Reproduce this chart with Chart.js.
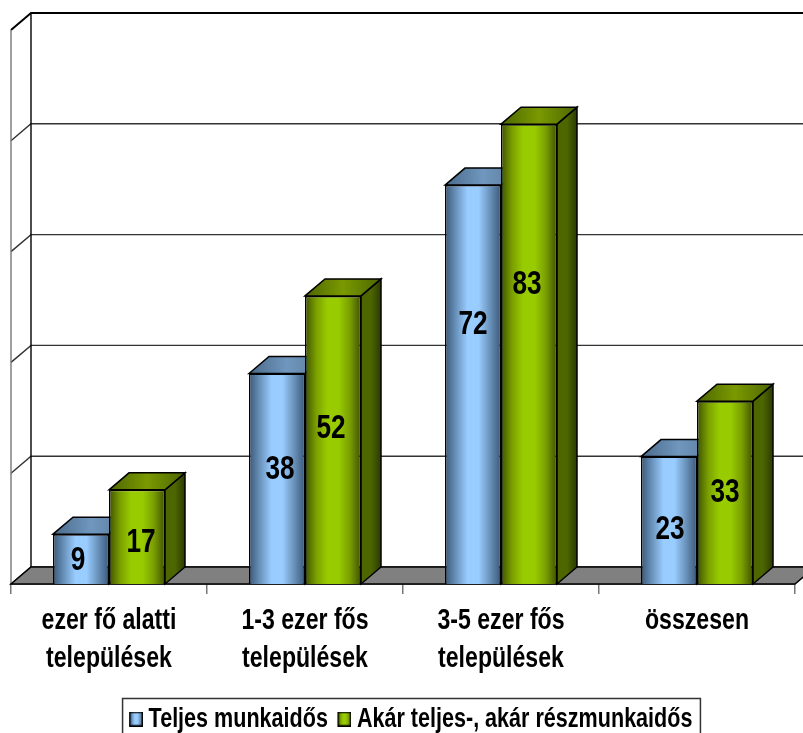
<!DOCTYPE html>
<html>
<head>
<meta charset="utf-8">
<style>
  html, body { margin: 0; padding: 0; background: #fff; overflow: hidden; }
  #wrap { position: relative; width: 803px; height: 733px; }
  canvas { display: block; }
</style>
<script src="https://cdn.jsdelivr.net/npm/chart.js@4/dist/chart.umd.min.js"></script>
</head>
<body>
<div id="wrap"><canvas id="myChart" width="803" height="733"></canvas></div>
<script>
//-- chart data ---->
var categories = [['ezer fő alatti', 'települések'], ['1-3 ezer fős', 'települések'], ['3-5 ezer fős', 'települések'], 'összesen'];
var fullTime = [9, 38, 72, 23];
var anyTime = [17, 52, 83, 33];
var seriesNames = ['Teljes munkaidős', 'Akár teljes-, akár részmunkaidős'];
var yTicks = [0, 20, 40, 60, 80, 100];

//-- 3d depth of the chart box
var depthX = 20;
var depthY = 17;

var fontName = '"Liberation Sans", Arial, sans-serif';
var squeeze = 0.77;   //-- text of the original is narrower than the font

var blue = { front: ['#3a5878', '#6a93bc', '#99ccff', '#99ccff', '#6a93bc', '#3a5878'], top: ['#4a6a8a', '#7097be', '#5a7a9a'], side: ['#3f5f80', '#4d6b8a', '#2c3f55'] };
var green = { front: ['#3f5200', '#7a9f00', '#99cc00', '#99cc00', '#7a9f00', '#3f5200'], top: ['#4d6600', '#7a9900', '#4d6600'], side: ['#4d6600', '#4d6600', '#2c3a00'] };

var canvas = document.getElementById('myChart');
var ctx = canvas.getContext('2d');

//-- squeeze every text of the chart horizontally
var rawFillText = ctx.fillText;
var rawMeasure = ctx.measureText;
ctx.fillText = function (t, x, y) {
    this.save();
    this.translate(x, y);
    this.scale(squeeze, 1);
    rawFillText.call(this, t, 0, 0);
    this.restore();
};
ctx.measureText = function (t) {
    return { width: rawMeasure.call(this, t).width * squeeze };
};

function hGradient(c, x0, x1, stops) {
    var g = c.createLinearGradient(x0, 0, x1, 0);
    stops.forEach(function (col, i) { g.addColorStop(i / (stops.length - 1), col); });
    return g;
}

//-- front face gradient, follows the bar position on the x scale
function frontFill(colors, shift) {
    return function (c) {
        var xs = c.chart.scales.x;
        if (!xs || !c.chart.chartArea) return colors.front[2];
        var w = xs.width / categories.length * 0.2857;
        var mid = xs.getPixelForValue(c.dataIndex);
        var x0 = mid + (shift - 1) * w;
        return hGradient(c.chart.ctx, x0, x0 + w, colors.front);
    };
}

//-- little gradient swatch of the legend, blank part on the left pulls it to the text
function swatch(colors) {
    var cv = document.createElement('canvas');
    cv.width = 18; cv.height = 15;
    var cx = cv.getContext('2d');
    cx.fillStyle = hGradient(cx, 4, 18, colors.front);
    cx.fillRect(4, 0, 14, 15);
    cx.strokeStyle = '#000';
    cx.lineWidth = 1.5;
    cx.strokeRect(4.75, 0.75, 12.5, 13.5);
    return cv;
}

function poly(c, pts, fill, stroke, lw) {
    c.beginPath();
    pts.forEach(function (p, i) { if (i) c.lineTo(p[0], p[1]); else c.moveTo(p[0], p[1]); });
    c.closePath();
    if (fill) { c.fillStyle = fill; c.fill(); }
    if (stroke) { c.strokeStyle = stroke; c.lineWidth = lw || 1.5; c.stroke(); }
}

//-- walls, floor and grid lines behind the bars, then top and side of each bar
var box3d = {
    id: 'box3d',
    beforeDatasetsDraw: function (chart) {
        var c = chart.ctx, a = chart.chartArea, ys = chart.scales.y;
        c.save();
        yTicks.forEach(function (v) {
            var y = ys.getPixelForValue(v);
            c.strokeStyle = v == 100 ? '#000' : '#333';
            c.lineWidth = v == 100 ? 2 : 1.4;
            c.beginPath();
            c.moveTo(a.left, y);
            c.lineTo(a.left + depthX, y - depthY);
            c.lineTo(chart.width, y - depthY);
            c.stroke();
        });
        c.strokeStyle = '#000';
        c.lineWidth = 1.4;
        c.beginPath();
        c.moveTo(a.left + depthX, a.top - depthY);
        c.lineTo(a.left + depthX, a.bottom - depthY);
        c.stroke();
        c.strokeStyle = '#777';
        c.beginPath();
        c.moveTo(a.left, a.top);
        c.lineTo(a.left, a.bottom);
        c.stroke();
        poly(c, [[a.left, a.bottom], [a.left + depthX, a.bottom - depthY], [a.right + depthX, a.bottom - depthY], [a.right, a.bottom]], '#808080', '#000', 1.5);

        chart.data.datasets.forEach(function (ds, i) {
            var colors = i == 0 ? blue : green;
            chart.getDatasetMeta(i).data.forEach(function (el) {
                var l = el.x - el.width / 2, r = el.x + el.width / 2, t = el.y, b = el.base;
                poly(c, [[r, t], [r + depthX, t - depthY], [r + depthX, b - depthY], [r, b]], hGradient(c, r, r + depthX, colors.side), '#000', 1.5);
                poly(c, [[l, t], [l + depthX, t - depthY], [r + depthX, t - depthY], [r, t]], hGradient(c, l, r + depthX, colors.top), '#000', 1.5);
            });
        });
        c.restore();
    },
    afterDraw: function (chart) {
        var c = chart.ctx, lg = chart.legend;
        var mid = (lg.left + lg.right) / 2, w = lg.lineWidths[0];
        c.save();
        c.strokeStyle = '#333';
        c.lineWidth = 1.5;
        c.strokeRect(mid - w / 2 - 4, 698.5, w + 5, 60);
        c.restore();
    }
};

//-- value labels were moved by hand in the original: height on the value axis, small shift aside
var labelHeights = [[4.2, 20.7, 46.9, 9.9], [7.5, 28, 54.1, 16.5]];
var labelShift = [[-3, 3, 0, 1], [4, -2, -2, 0]];
var valueLabels = {
    id: 'valueLabels',
    afterDatasetsDraw: function (chart) {
        var c = chart.ctx, ys = chart.scales.y;
        c.save();
        c.fillStyle = '#000';
        c.font = 'bold 34px ' + fontName;
        c.textAlign = 'center';
        c.textBaseline = 'middle';
        chart.data.datasets.forEach(function (ds, i) {
            chart.getDatasetMeta(i).data.forEach(function (el, j) {
                c.fillText(String(ds.data[j]), el.x + labelShift[i][j], ys.getPixelForValue(labelHeights[i][j]));
            });
        });
        c.restore();
    },
    afterLayout: function (chart) {
        //-- the legend sits a bit right of the middle and runs off the page
        var lg = chart.legend;
        lg.left += 10; lg.right += 10;
        lg.top += 10; lg.bottom += 10;
    }
};

var myChart = new Chart(canvas, {
    type: 'bar',
    data: {
        labels: categories,
        datasets: [
            { label: seriesNames[0], data: fullTime, backgroundColor: frontFill(blue, 0), borderColor: '#000', borderWidth: 1.5 },
            { label: seriesNames[1], data: anyTime, backgroundColor: frontFill(green, 1), borderColor: '#000', borderWidth: 1.5 }
        ]
    },
    plugins: [box3d, valueLabels],
    options: {
        responsive: false,
        animation: false,
        devicePixelRatio: 1,
        layout: { padding: { left: 11, right: 8, top: 30, bottom: 0 } },
        categoryPercentage: 0.5714,
        barPercentage: 1,
        scales: {
            x: {
                grid: { drawOnChartArea: false, offset: true, tickLength: 10, color: '#777', lineWidth: 1.5 },
                border: { color: '#000', width: 1.5 },
                ticks: { color: '#000', padding: 8, maxRotation: 0, autoSkip: false, font: { family: fontName, weight: 'bold', size: 30, lineHeight: 1.267 } },
                afterFit: function (s) { s.height = 149 - (s.chart.legend.height || 56); }
            },
            y: { display: false, min: 0, max: 100, ticks: { stepSize: 20 } }
        },
        plugins: {
            tooltip: { enabled: false },
            legend: {
                position: 'bottom',
                labels: {
                    color: '#000',
                    font: { family: fontName, weight: 'bold', size: 28 },
                    usePointStyle: true,
                    pointStyleWidth: 1,
                    padding: 14,
                    generateLabels: function (chart) {
                        return chart.data.datasets.map(function (ds, i) {
                            return { text: ds.label, datasetIndex: i, pointStyle: swatch(i == 0 ? blue : green), lineWidth: 0, fontColor: '#000' };
                        });
                    }
                }
            }
        }
    }
});
</script>
</body>
</html>
